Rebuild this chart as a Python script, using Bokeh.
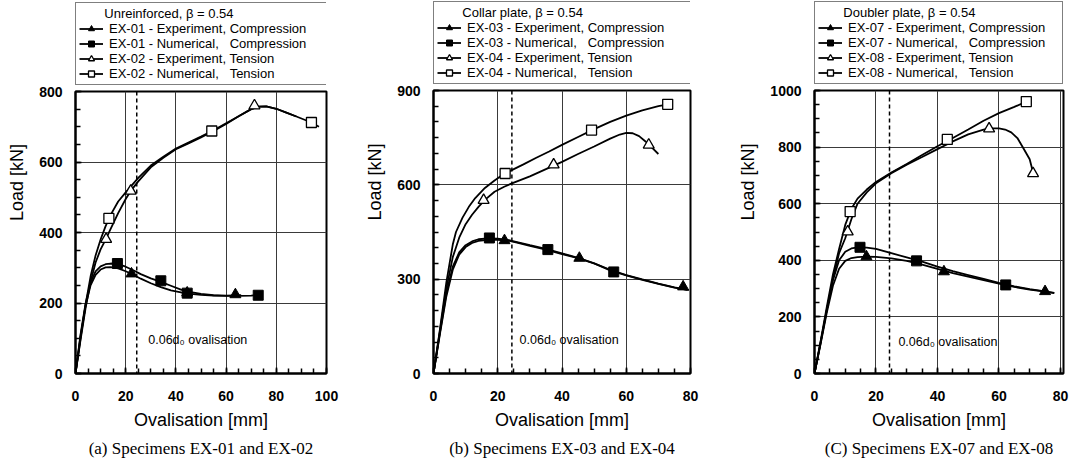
from bokeh.plotting import figure
from bokeh.layouts import row, column
from bokeh.models import (Range1d, SingleIntervalTicker, Span, Legend, LegendItem,
                          Label, Title)
from bokeh.embed import file_html
from bokeh.resources import INLINE

# ---------------- data ----------------
# Panel (a) Unreinforced
a_comp_exp_x = [0, 2, 4, 6, 8, 10, 12, 14, 17, 20, 23, 26, 30, 34, 38, 42, 46, 50, 55, 60, 66]
a_comp_exp_y = [0, 105, 192, 250, 280, 295, 301, 302, 298, 290, 280, 269, 256, 245, 236, 230, 226, 223, 221, 221, 222]
a_comp_num_x = [0, 2, 4, 6, 8, 10, 12, 14, 17, 20, 23, 26, 30, 34, 38, 42, 46, 50, 55, 60, 65, 70, 73]
a_comp_num_y = [0, 110, 198, 258, 290, 304, 310, 312, 310, 303, 293, 282, 270, 260, 249, 238, 231, 226, 222, 220, 220, 221, 223]
a_ten_exp_x = [0, 2, 4, 6, 8, 10, 12, 14, 17, 20, 22, 25, 30, 35, 40, 45, 50, 55, 60, 65, 70, 73, 76, 80, 84, 88]
a_ten_exp_y = [0, 95, 185, 260, 315, 352, 380, 410, 455, 495, 518, 545, 585, 612, 636, 653, 670, 688, 708, 730, 750, 757, 758, 751, 740, 729]
a_ten_num_x = [0, 2, 4, 6, 8, 10, 12, 14, 17, 20, 25, 30, 35, 40, 45, 50, 55, 60, 65, 70, 73, 76, 80, 84, 88, 94, 97]
a_ten_num_y = [0, 100, 195, 275, 335, 380, 418, 450, 488, 514, 555, 590, 615, 638, 655, 672, 690, 710, 730, 750, 757, 758, 751, 740, 729, 712, 700]
a_m_comp_exp_x = [22.3, 44.5, 63.7]
a_m_comp_exp_y = [283, 229, 224]
a_m_comp_num_x = [16.7, 34.0, 44.5, 72.8]
a_m_comp_num_y = [312, 263, 228, 222]
a_m_ten_exp_x = [12.2, 22.0, 71.3]
a_m_ten_exp_y = [381, 518, 760]
a_m_ten_num_x = [13.3, 54.3, 94.0]
a_m_ten_num_y = [440, 688, 712]

# Panel (b) Collar plate
b_comp_exp_x = [0, 2, 4, 6, 8, 10, 12, 14, 17, 20, 23, 26, 30, 35, 40, 45, 50, 55, 60, 65, 70, 75, 79.5]
b_comp_exp_y = [0, 125, 245, 330, 378, 402, 415, 422, 425, 425, 423, 416, 406, 394, 380, 367, 350, 330, 313, 299, 286, 274, 265]
b_comp_num_x = [0, 2, 4, 6, 8, 10, 12, 14, 17, 20, 23, 26, 30, 35, 40, 45, 50, 55, 60, 65, 70, 75, 79]
b_comp_num_y = [0, 130, 255, 340, 385, 408, 420, 427, 430, 429, 425, 418, 408, 396, 382, 368, 350, 328, 312, 298, 285, 273, 266]
b_ten_exp_x = [0, 2, 4, 6, 8, 10, 12, 14, 16, 19, 22, 25, 30, 35, 40, 45, 50, 55, 58, 60, 62, 64, 66, 68, 70]
b_ten_exp_y = [0, 135, 270, 370, 432, 475, 505, 530, 552, 578, 594, 607, 627, 650, 673, 698, 722, 747, 760, 765, 764, 755, 738, 718, 698]
b_ten_num_x = [0, 2, 4, 6, 7, 9, 11, 13, 16, 19, 22, 25, 28, 32, 36, 40, 45, 50, 55, 60, 65, 70, 73]
b_ten_num_y = [0, 140, 290, 410, 450, 495, 530, 558, 590, 614, 635, 650, 665, 686, 706, 727, 752, 777, 800, 820, 837, 850, 856]
b_m_comp_exp_x = [22.1, 45.4, 77.7]
b_m_comp_exp_y = [423, 367, 276]
b_m_comp_num_x = [17.4, 35.6, 56.1]
b_m_comp_num_y = [431, 394, 323]
b_m_ten_exp_x = [15.6, 37.4, 67.0]
b_m_ten_exp_y = [551, 664, 727]
b_m_ten_num_x = [22.3, 49.2, 72.9]
b_m_ten_num_y = [636, 774, 856]

# Panel (c) Doubler plate
c_comp_exp_x = [0, 2, 4, 6, 8, 10, 12, 14, 17, 20, 25, 30, 35, 40, 45, 50, 55, 60, 65, 70, 75, 78]
c_comp_exp_y = [0, 105, 215, 310, 370, 398, 408, 411, 413, 412, 407, 398, 385, 370, 355, 342, 330, 318, 306, 296, 289, 284]
c_comp_num_x = [0, 2, 4, 6, 8, 10, 12, 14, 17, 20, 25, 30, 35, 40, 45, 50, 55, 60, 65, 70, 75, 78]
c_comp_num_y = [0, 110, 225, 330, 400, 430, 442, 446, 445, 440, 425, 410, 395, 378, 362, 348, 334, 320, 308, 298, 290, 285]
c_ten_exp_x = [0, 2, 4, 6, 8, 10, 12, 14, 17, 20, 25, 30, 35, 40, 45, 50, 55, 57, 60, 62, 64, 66, 68, 70, 71.1]
c_ten_exp_y = [0, 110, 225, 335, 425, 478, 545, 600, 640, 672, 708, 738, 765, 793, 820, 845, 862, 866, 866, 862, 852, 832, 795, 757, 710]
c_ten_num_x = [0, 2, 4, 6, 8, 10, 12, 14, 17, 20, 25, 30, 35, 40, 45, 50, 55, 60, 65, 69]
c_ten_num_y = [0, 115, 235, 350, 440, 525, 582, 618, 650, 677, 710, 740, 772, 803, 832, 862, 893, 920, 942, 961]
c_m_comp_exp_x = [16.9, 42.1, 75.0]
c_m_comp_exp_y = [413, 360, 290]
c_m_comp_num_x = [14.8, 33.2, 62.2]
c_m_comp_num_y = [446, 398, 313]
c_m_ten_exp_x = [10.8, 56.8, 71.1]
c_m_ten_exp_y = [501, 865, 707]
c_m_ten_num_x = [11.6, 43.2, 68.9]
c_m_ten_num_y = [572, 827, 961]

ovalisation_limit = 24.4  # 0.06 d0

NB = "\u00a0"
FONT = "Liberation Sans"
TOTAL_H = 461
NAN = float("nan")
MAIN_TOP = 6

STYLES = {
    "ce": dict(marker="triangle", size=11, fill_color="black", line_width=1),
    "cn": dict(marker="square", size=10, fill_color="black", line_width=1),
    "te": dict(marker="triangle", size=11, fill_color="white", line_width=1.3),
    "tn": dict(marker="square", size=10, fill_color="white", line_width=1.3),
}
LW = 1.8


def make_panel(cfg):
    top_h = cfg["bt"] - MAIN_TOP
    main_h = TOTAL_H - top_h

    p = figure(width=cfg["width"], height=main_h,
               x_range=Range1d(0, cfg["xmax"]), y_range=Range1d(0, cfg["ymax"]),
               output_backend="svg", toolbar_location=None,
               min_border_left=cfg["bl"], min_border_right=cfg["br"],
               min_border_top=MAIN_TOP, min_border_bottom=cfg["bb"])
    p.background_fill_color = "white"
    p.border_fill_color = "white"
    p.outline_line_color = "black"
    p.outline_line_width = 2

    xt = SingleIntervalTicker(interval=20, num_minor_ticks=4)
    yt = SingleIntervalTicker(interval=cfg["ystep"], num_minor_ticks=cfg["yminor"])
    p.xaxis.ticker = xt
    p.yaxis.ticker = yt
    p.xgrid.ticker = xt
    p.ygrid.ticker = yt
    for g in (p.xgrid, p.ygrid):
        g.grid_line_color = "#3a3a3a"
        g.grid_line_width = 1

    for ax in (p.xaxis, p.yaxis):
        ax.axis_line_color = "black"
        ax.axis_line_width = 2
        ax.major_tick_in = 6
        ax.major_tick_out = 0
        ax.minor_tick_in = 5
        ax.minor_tick_out = 0
        ax.major_tick_line_color = "black"
        ax.minor_tick_line_color = "black"
        ax.major_tick_line_width = 1.5
        ax.minor_tick_line_width = 1.5
        ax.major_label_text_font = FONT
        ax.major_label_text_font_size = "14px"
        ax.major_label_text_font_style = "bold"
        ax.major_label_text_color = "black"
        ax.axis_label_text_font = FONT
        ax.axis_label_text_font_size = "18px"
        ax.axis_label_text_font_style = "normal"
        ax.axis_label_text_color = "black"
    p.xaxis.axis_label = "Ovalisation [mm]"
    p.yaxis.axis_label = NB * 20 + "Load [kN]"
    p.xaxis.major_label_standoff = 17
    p.yaxis.major_label_standoff = 13
    p.xaxis.axis_label_standoff = 6
    p.yaxis.axis_label_standoff = 9

    p.add_layout(Span(location=ovalisation_limit, dimension="height",
                      line_color="black", line_width=1.5, line_dash="4 3"))
    p.add_layout(Label(x=cfg["lab_x"], y=cfg["lab_y"], text="0.06d\u2080 ovalisation",
                       text_font=FONT, text_font_size="12.5px", text_baseline="middle",
                       text_color="black"))

    for key in ("ce", "cn", "te", "tn"):
        p.line(cfg[key][0], cfg[key][1], line_color="black", line_width=LW)
    for key in ("ce", "cn", "te", "tn"):
        mx, my = cfg["m" + key]
        p.scatter(mx, my, line_color="black", **STYLES[key])

    p.add_layout(Title(text=cfg["caption"], align="center", text_font="Liberation Serif",
                       text_font_size="17px", text_font_style="normal",
                       text_color="black", standoff=8), "below")

    # ---- legend strip above the plot ----
    s1, s2 = cfg["specs"]
    labels = {
        "ce": f"{s1} - Experiment, Compression",
        "cn": f"{s1} - Numerical,{NB}{NB}{NB}Compression",
        "te": f"{s2} - Experiment, Tension",
        "tn": f"{s2} - Numerical,{NB}{NB}{NB}Tension",
    }
    lf = figure(width=cfg["width"], height=top_h, x_axis_type=None, y_axis_type=None,
                x_range=Range1d(0, 1), y_range=Range1d(0, 1),
                output_backend="svg", toolbar_location=None,
                min_border_left=cfg["leg_left"], min_border_right=0,
                min_border_top=0, min_border_bottom=0)
    lf.outline_line_color = None
    lf.background_fill_color = "white"
    lf.border_fill_color = "white"
    items = []
    for key in ("ce", "cn", "te", "tn"):
        rl = lf.line([NAN], [NAN], line_color="black", line_width=LW)
        rm = lf.scatter([NAN], [NAN], line_color="black", **STYLES[key])
        items.append(LegendItem(label=labels[key], renderers=[rl, rm]))
    title = NB * 7 + cfg["ltitle"] + NB * cfg["tpad"]
    leg = Legend(items=items, title=title, location="bottom_left", margin=0,
                 padding=3, spacing=0, glyph_height=15, glyph_width=24,
                 label_height=15, label_standoff=6, title_standoff=0,
                 label_text_font=FONT, label_text_font_size="13px",
                 label_text_color="black",
                 title_text_font=FONT, title_text_font_size="13px",
                 title_text_font_style="normal", title_text_color="black",
                 border_line_color="black", border_line_width=1.6,
                 background_fill_color="white", background_fill_alpha=1)
    lf.add_layout(leg)
    return column(lf, p, spacing=0)


pa = make_panel(dict(width=360, xmax=100, ymax=800, ystep=200, yminor=4,
                     bl=75, br=34, bt=91, bb=84, lab_x=29, lab_y=95, leg_left=73,
                     ce=(a_comp_exp_x, a_comp_exp_y), cn=(a_comp_num_x, a_comp_num_y),
                     te=(a_ten_exp_x, a_ten_exp_y), tn=(a_ten_num_x, a_ten_num_y),
                     mce=(a_m_comp_exp_x, a_m_comp_exp_y), mcn=(a_m_comp_num_x, a_m_comp_num_y),
                     mte=(a_m_ten_exp_x, a_m_ten_exp_y), mtn=(a_m_ten_num_x, a_m_ten_num_y),
                     specs=("EX-01", "EX-02"), ltitle="Unreinforced, \u03b2 = 0.54", tpad=25,
                     caption="(a) Specimens EX-01 and EX-02"))
pb = make_panel(dict(width=355, xmax=80, ymax=900, ystep=300, yminor=6,
                     bl=73, br=25, bt=90, bb=85, lab_x=26.8, lab_y=108, leg_left=71,
                     ce=(b_comp_exp_x, b_comp_exp_y), cn=(b_comp_num_x, b_comp_num_y),
                     te=(b_ten_exp_x, b_ten_exp_y), tn=(b_ten_num_x, b_ten_num_y),
                     mce=(b_m_comp_exp_x, b_m_comp_exp_y), mcn=(b_m_comp_num_x, b_m_comp_num_y),
                     mte=(b_m_ten_exp_x, b_m_ten_exp_y), mtn=(b_m_ten_num_x, b_m_ten_num_y),
                     specs=("EX-03", "EX-04"), ltitle="Collar plate, \u03b2 = 0.54", tpad=29,
                     caption="(b) Specimens EX-03 and EX-04"))
pc = make_panel(dict(width=358, xmax=81, ymax=1000, ystep=200, yminor=4,
                     bl=99, br=10, bt=90, bb=87, lab_x=27.3, lab_y=110, leg_left=97,
                     ce=(c_comp_exp_x, c_comp_exp_y), cn=(c_comp_num_x, c_comp_num_y),
                     te=(c_ten_exp_x, c_ten_exp_y), tn=(c_ten_num_x, c_ten_num_y),
                     mce=(c_m_comp_exp_x, c_m_comp_exp_y), mcn=(c_m_comp_num_x, c_m_comp_num_y),
                     mte=(c_m_ten_exp_x, c_m_ten_exp_y), mtn=(c_m_ten_num_x, c_m_ten_num_y),
                     specs=("EX-07", "EX-08"), ltitle="Doubler plate, \u03b2 = 0.54", tpad=23,
                     caption="(C) Specimens EX-07 and EX-08"))

layout = row(pa, pb, pc, spacing=0)
open("out.html", "w").write(file_html(layout, INLINE))
